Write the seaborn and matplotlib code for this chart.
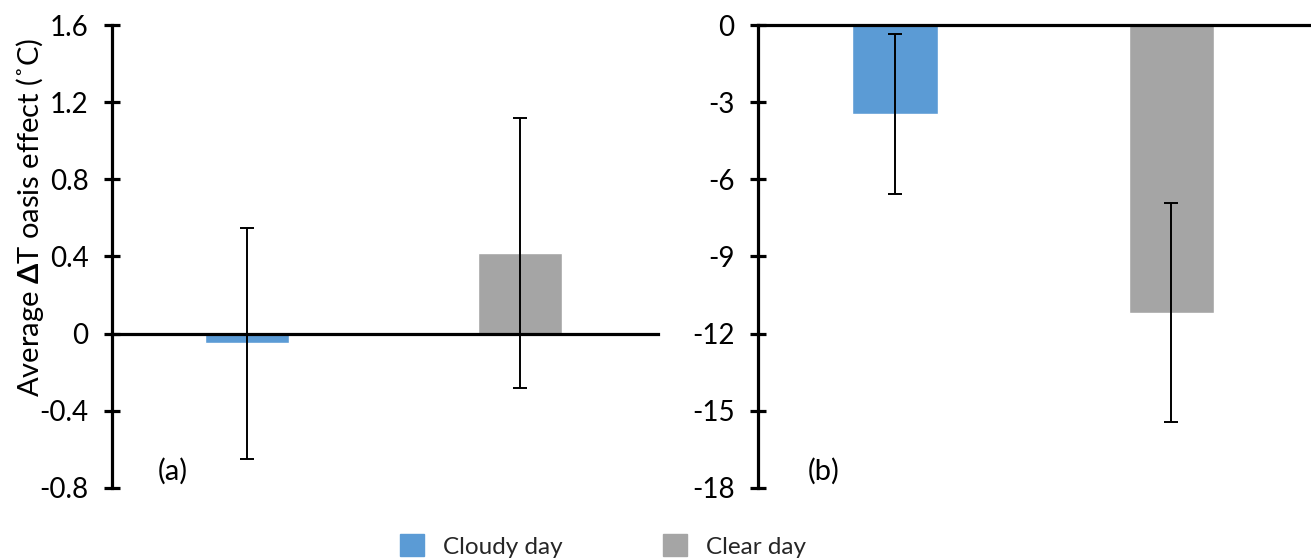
import matplotlib
matplotlib.use("Agg")
import matplotlib.pyplot as plt
import seaborn as sns
import pandas as pd

categories = ["Cloudy day", "Clear day"]
colors = ["#5B9BD5", "#A5A5A5"]

values_a = [-0.05, 0.42]
errors_a = [0.60, 0.70]
values_b = [-3.45, -11.18]
errors_b = [3.10, 4.28]

yticks_a = [1.6, 1.2, 0.8, 0.4, 0, -0.4, -0.8]
ytick_labels_a = ["1.6", "1.2", "0.8", "0.4", "0", "-0.4", "-0.8"]
yticks_b = [0, -3, -6, -9, -12, -15, -18]
ytick_labels_b = ["0", "-3", "-6", "-9", "-12", "-15", "-18"]

sns.set_theme(style="white")
plt.rcParams["font.family"] = ["Lato", "DejaVu Sans"]
plt.rcParams["mathtext.fontset"] = "custom"
plt.rcParams["mathtext.rm"] = "Lato"
plt.rcParams["mathtext.bf"] = "Lato:bold"

FS = 20
fig = plt.figure(figsize=(13.11, 5.6), dpi=100)
ax1 = fig.add_axes([112 / 1311, 0.129, 546 / 1311, 0.826])
ax2 = fig.add_axes([758 / 1311, 0.129, 553 / 1311, 0.826])

def panel(ax, vals, errs, yt, ytl, ylim, xlim, tag):
    df = pd.DataFrame({"cat": categories, "val": vals})
    sns.barplot(data=df, x="cat", y="val", hue="cat", palette=colors,
                order=categories, hue_order=categories, dodge=False,
                width=0.31, errorbar=None, ax=ax, legend=True, saturation=1)
    ax.errorbar(range(len(vals)), vals, yerr=errs, fmt="none", ecolor="black",
                elinewidth=1.4, capsize=4.7, capthick=1.4, zorder=5)
    ax.set_ylim(*ylim)
    ax.set_xlim(*xlim)
    ax.set_yticks(yt)
    ax.set_yticklabels(ytl, fontsize=FS)
    ax.set_xticks([])
    ax.set_xlabel("")
    ax.set_ylabel("")
    for s in ["top", "right"]:
        ax.spines[s].set_visible(False)
    ax.spines["left"].set_linewidth(2.3)
    ax.spines["left"].set_color("black")
    ax.spines["bottom"].set_position(("data", 0))
    ax.spines["bottom"].set_linewidth(2.3)
    ax.spines["bottom"].set_color("black")
    ax.tick_params(axis="y", direction="inout", length=11.5, width=2.3,
                   color="black", left=True, pad=11, labelcolor="black")
    ax.text(tag[1], 0.017, tag[0], transform=ax.transAxes, fontsize=21,
            ha="left", va="baseline", color="black")
    leg = ax.get_legend()
    if leg is not None:
        leg.remove()

panel(ax1, values_a, errors_a, yticks_a, ytick_labels_a, (-0.8, 1.6), (-0.495, 1.505), ("(a)", 0.084))
panel(ax2, values_b, errors_b, yticks_b, ytick_labels_b, (-18, 0), (-0.495, 1.505), ("(b)", 0.09))

ax1.set_ylabel(r"Average $\mathbf{\Delta}$T oasis effect (˚C)", fontsize=21, color="black")
ax1.yaxis.set_label_coords(-0.12, 0.585)

handles = [plt.Rectangle((0, 0), 1, 1, color=c) for c in colors]
fig.legend(handles, categories, loc="center", ncol=2, frameon=False,
           fontsize=17.5, bbox_to_anchor=(603 / 1311, 1 - 546 / 560), handlelength=1.0,
           handleheight=1.0, columnspacing=4.1, handletextpad=0.8)

fig.savefig("out.png", dpi=100, facecolor="white")
